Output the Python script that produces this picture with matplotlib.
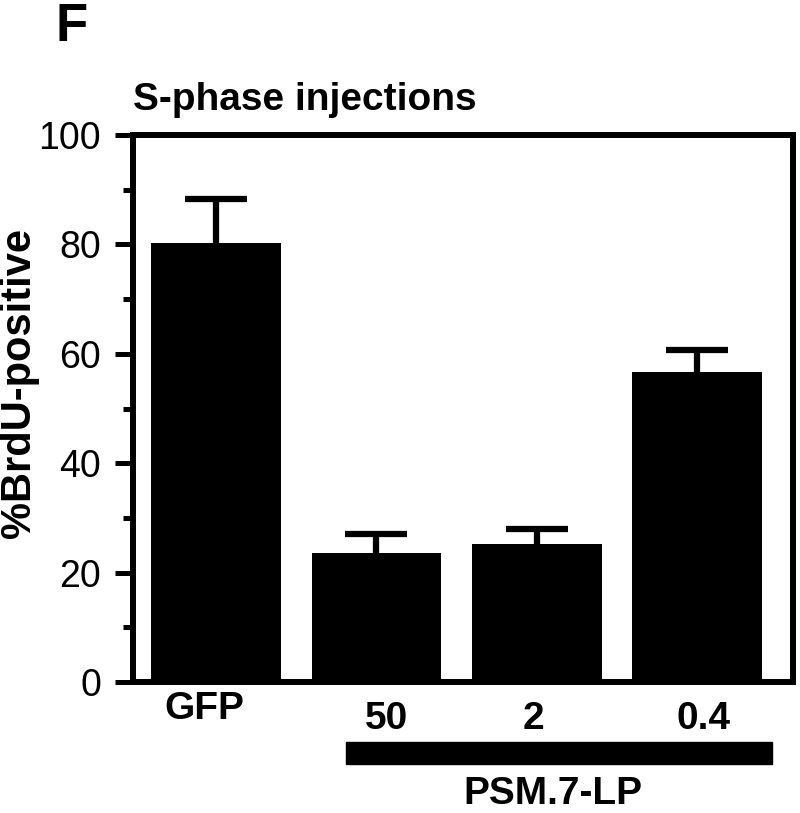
import numpy as np
import matplotlib
matplotlib.use("Agg")
import matplotlib.pyplot as plt
from matplotlib.patches import Rectangle
from matplotlib.ticker import MultipleLocator

# Daten
groups = ["GFP", "50", "2", "0.4"]
brdu = [80.3, 23.6, 25.2, 56.6]      # % BrdU-positiv
err_up = [8.0, 3.5, 2.8, 4.1]         # Fehlerbalken (nur nach oben)
label_shift = [-0.075, 0.06, -0.02, 0.04]

plt.rcParams["font.family"] = ["Liberation Sans", "DejaVu Sans"]

fig = plt.figure(figsize=(8, 8.13), dpi=100)
ax = fig.add_axes([133/800, 1-682/813, (793-133)/800, (682-135)/813])

x = np.arange(len(groups))
ax.bar(x, brdu, width=0.81, color="black", zorder=2)
eb = ax.errorbar(x, brdu, yerr=[np.zeros(len(err_up)), err_up], fmt="none",
                 ecolor="black", elinewidth=4.5, capsize=22, capthick=4.5,
                 zorder=1)
eb[1][0].set_visible(False)   # unteren Querstrich ausblenden

ax.set_xlim(-0.52, 3.6)
ax.set_ylim(0, 100)
ax.yaxis.set_major_locator(MultipleLocator(20))
ax.yaxis.set_minor_locator(MultipleLocator(10))
ax.tick_params(axis="y", which="major", length=13, width=3.6, pad=10,
               labelsize=27, direction="out")
ax.tick_params(axis="y", which="minor", length=7, width=3.6, direction="out")
ax.set_xticks([])
for s in ax.spines.values():
    s.set_linewidth(4.3)

# Gruppenbeschriftungen unter den Balken
trans = ax.get_xaxis_transform()
ax.text(x[0] + label_shift[0], -0.05, groups[0], transform=trans,
        ha="center", va="center", fontsize=28, fontweight="bold")
for i in range(1, len(groups)):
    ax.text(x[i] + label_shift[i], -0.068, groups[i], transform=trans,
            ha="center", va="center", fontsize=28, fontweight="bold")

# Balken für PSM.7-LP
ax.add_patch(Rectangle((0.81, -0.150), 3.47 - 0.81, 0.040, transform=trans,
                       color="black", clip_on=False))
ax.text(2.1, -0.205, "PSM.7-LP", transform=trans, ha="center", va="center",
        fontsize=28, fontweight="bold")

fig.text(19/800, 1-383/813, "%BrdU-positive", rotation=90, ha="center",
         va="center", fontsize=30, fontweight="bold")
fig.text(133/800, 1-100/813, "S-phase injections", ha="left", va="center",
         fontsize=28, fontweight="bold")
fig.text(55/800, 1-27/813, "F", ha="left", va="center", fontsize=38,
         fontweight="bold")

fig.savefig("out.png", dpi=100)
